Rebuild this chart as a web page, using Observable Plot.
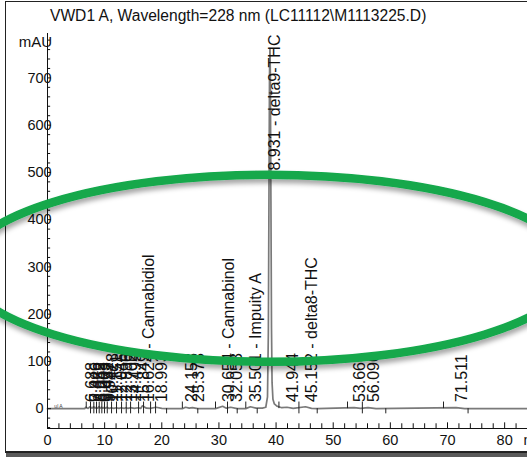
<!DOCTYPE html>
<html><head><meta charset="utf-8">
<script src="https://cdn.jsdelivr.net/npm/d3@7"></script>
<script src="https://cdn.jsdelivr.net/npm/@observablehq/plot@0.6"></script>
<style>
html,body{margin:0;padding:0;background:#fff;overflow:hidden;}
#wrap{position:relative;width:527px;height:459px;overflow:hidden;font-family:"Liberation Sans",Arial,sans-serif;}
#frame{position:absolute;left:5px;top:1px;width:600px;height:449px;border:1px solid #222;border-bottom:2px solid #222;box-shadow:1px 4px 0 #5a5a5a;}
#title{position:absolute;left:50px;top:7px;font-size:15.6px;line-height:17px;color:#111;white-space:nowrap;}
#chart{position:absolute;left:0;top:0;}
</style></head><body>
<div id="wrap"><div id="frame"></div><div id="chart"></div><div id="title">VWD1 A, Wavelength=228 nm (LC11112\M1113225.D)</div></div>
<script>
// ---- data ----
const traceTime = [0, 6.5, 6.7, 7.1, 7.45, 7.8, 8.05, 8.35, 8.55, 8.8, 9.0, 9.25, 9.45, 9.7, 9.95, 10.2, 10.43, 10.8, 11.15, 11.6, 12.05, 12.5, 12.9, 13.4, 13.7, 14.1, 14.5, 15.2, 15.85, 16.3, 16.62, 17.3, 18.0, 18.99, 20.0, 20.8, 23.6, 24.15, 24.8, 25.37, 26.3, 29.4, 30.65, 31.3, 32.05, 33.2, 34.7, 35.5, 36.5, 37.6, 38.2, 38.5, 38.65, 38.75, 38.85, 38.93, 39.0, 39.1, 39.2, 39.3, 39.45, 39.7, 40.2, 41.0, 41.9, 43.0, 45.15, 46.2, 47.2, 53.66, 54.8, 56.09, 57.5, 71.51, 73.0, 84];
const traceMAU  = [0, 0, 3, 0.5, 4, 1, 4, 1, 3, 1, 4, 1, 3, 1, 3, 1, 3, 0.5, 2, 0.5, 2, 0.5, 2, 0.5, 2, 0.5, 2, 0.5, 2, 0.5, 6, 1, 0.5, 3, 0.5, 0, 0, 3, 1, 2, 0, 0, 5, 1, 3, 0, 0, 4, 1, 1, 3, 25, 160, 430, 705, 762, 710, 440, 170, 55, 20, 10, 5, 2, 3, 0.5, 4, 0.5, 0, 2, 0.5, 2, 0, 2, 0, 0];

const peakTimes = [6.688, 7.446, 8.052, 8.548, 9.003, 9.452, 9.947, 10.428, 11.151, 12.046, 12.896, 13.702, 14.495, 15.849, 16.624, 18.993, 24.153, 25.373, 30.654, 32.053, 35.501, 38.931, 41.944, 45.152, 53.668, 56.096, 71.511];
const peakNames = ["", "", "", "", "", "", "", "", "", "", "", "", "", "", "Cannabidiol", "", "", "", "Cannabinol", "", "Impuity A", "delta9-THC", "", "delta8-THC", "", "", ""];

// integration marks (baseline start / end / split)
const markStart = [6.78, 23.6, 29.4, 34.7, 40.5, 52.5, 69.3];
const markEnd   = [20.84, 26.3, 33.2, 36.7, 47.2, 59.2, 73.6];
const markSplit = [7.53, 8.11, 8.58, 9.05, 9.51, 9.98, 10.46, 11.21, 12.08, 12.96, 13.78, 14.54, 15.94, 16.81, 18.04, 18.91, 31.5, 44.0, 55.1];

// axis ticks
const xMajor = [0, 10, 20, 30, 40, 50, 60, 70, 80];
const xMinor = [2, 4, 6, 8, 12, 14, 16, 18, 22, 24, 26, 28, 32, 34, 36, 38, 42, 44, 46, 48, 52, 54, 56, 58, 62, 64, 66, 68, 72, 74, 76, 78, 82, 84];
const yMajor = [0, 100, 200, 300, 400, 500, 600, 700];
const yMinor = [-40, -20, 20, 40, 60, 80, 120, 140, 160, 180, 220, 240, 260, 280, 320, 340, 360, 380, 420, 440, 460, 480, 520, 540, 560, 580, 620, 640, 660, 680, 720, 740, 760, 780];

// annotation ring (data coordinates): centre [min, mAU], radii [min, mAU]
const ringCenter = [38.85, 296];
const ringRadius = [53.4, 198];

const trace = traceTime.map((t, i) => ({t, v: traceMAU[i]}));
const peaks = peakTimes.map((t, i) => ({t, label: t.toFixed(3) + (peakNames[i] ? " - " + peakNames[i] : ""), big: peakNames[i] === "delta9-THC"}));
const smallPeaks = peaks.filter(d => !d.big), bigPeaks = peaks.filter(d => d.big);

const Y0 = -42, Y1 = 794;
const chart = Plot.plot({
  width: 527, height: 459,
  marginLeft: 47, marginRight: 0, marginTop: 33, marginBottom: 31,
  x: {domain: [0, 84], axis: null},
  y: {domain: [Y0, Y1], axis: null},
  style: {fontFamily: "'Liberation Sans', Arial, sans-serif", background: "transparent", overflow: "visible", color: "#111"},
  marks: [
    Plot.line(trace, {x: "t", y: "v", stroke: "#7a7a7a", strokeWidth: 1.7}),
    Plot.ruleX(markStart, {x: d => d, y1: () => 0, y2: () => 14, stroke: "#222", strokeWidth: 1}),
    Plot.ruleX(markEnd, {x: d => d, y1: () => -11, y2: () => 0, stroke: "#222", strokeWidth: 1}),
    Plot.ruleX(markSplit, {x: d => d, y1: () => -11, y2: () => 14, stroke: "#222", strokeWidth: 1}),
    Plot.text(["ul A"], {x: () => 1.2, y: () => 0, dy: -2, fontSize: 5, textAnchor: "start", fill: "#444"}),
    Plot.text(smallPeaks, {x: "t", y: () => 14, text: "label", rotate: -90, textAnchor: "start", dx: 6, fontSize: 16, fill: "#111"}),
    Plot.text(bigPeaks, {x: "t", y: () => 485, text: "label", rotate: -90, textAnchor: "start", dx: 5, fontSize: 16, fill: "#111"}),
    // axes
    Plot.ruleX([0], {x: d => d, y1: () => Y0, y2: () => Y1, stroke: "#111"}),
    Plot.ruleY([Y0], {y: d => d, x1: () => 0, x2: () => 84, stroke: "#111"}),
    Plot.ruleX(xMajor, {x: d => d, y1: () => Y0, y2: () => Y0 + 12, stroke: "#111"}),
    Plot.ruleX(xMinor, {x: d => d, y1: () => Y0, y2: () => Y0 + 10, stroke: "#111"}),
    Plot.ruleY(yMajor, {y: d => d, x1: () => 0, x2: () => 0.7, stroke: "#111"}),
    Plot.ruleY(yMinor, {y: d => d, x1: () => 0, x2: () => 0.55, stroke: "#111"}),
    Plot.text(xMajor, {x: d => d, y: () => Y0, dy: 12, text: d => String(d), fontSize: 14.5, fill: "#111"}),
    Plot.text(["min"], {x: () => 83.3, y: () => Y0, dy: 12, text: d => d, textAnchor: "start", fontSize: 14.5, fill: "#111"}),
    Plot.text(yMajor, {x: () => 0, y: d => d, dx: -8, text: d => String(d), fontSize: 14.5, fill: "#111"}),
    Plot.text(["mAU"], {x: () => 0, y: () => Y1, dx: -12, dy: 9, text: d => d, fontSize: 15, fill: "#111"})
  ]
});
document.getElementById("chart").appendChild(chart);

// green annotation ring positioned through the plot's scales
const sx = chart.scale("x"), sy = chart.scale("y");
const cx = sx.apply(ringCenter[0]), cy = sy.apply(ringCenter[1]);
const rx = sx.apply(ringCenter[0] + ringRadius[0]) - cx;
const ry = cy - sy.apply(ringCenter[1] + ringRadius[1]);
const svg = d3.select(chart);
const defs = svg.append("defs");
const f = defs.append("filter").attr("id", "sh").attr("x", "-20%").attr("y", "-20%").attr("width", "140%").attr("height", "140%");
f.append("feDropShadow").attr("dx", 1).attr("dy", 4).attr("stdDeviation", 2.5).attr("flood-color", "#000").attr("flood-opacity", 0.35);
svg.append("ellipse").attr("cx", cx).attr("cy", cy).attr("rx", rx).attr("ry", ry)
  .attr("fill", "none").attr("stroke", "#12a84b").attr("stroke-width", 8.5).attr("filter", "url(#sh)");
</script>
</body></html>
